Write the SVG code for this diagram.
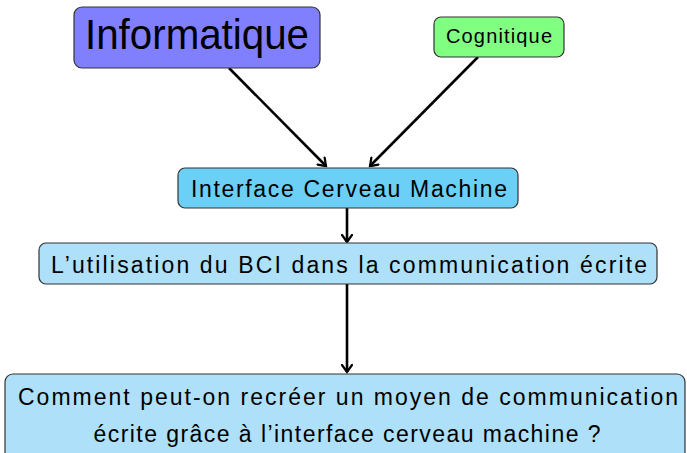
<svg xmlns="http://www.w3.org/2000/svg" width="687" height="453" viewBox="0 0 687 453">
  <style>
    .box { stroke: #333333; stroke-width: 1.2; }
    .lbl { font-family: "Liberation Sans", "DejaVu Sans", sans-serif; fill: #000000; text-anchor: middle; }
    .edge { stroke: #000000; stroke-width: 2.6; fill: none; marker-end: url(#tip); }
  </style>
  <defs>
    <!-- curved open arrow tip -->
    <marker id="tip" viewBox="-8 -6 10 12" markerWidth="10" markerHeight="12" refX="0" refY="0" orient="auto" markerUnits="userSpaceOnUse">
      <path d="M -7,-5 Q -1.5,-1 0,0 Q -1.5,1 -7,5" fill="none" stroke="#000000" stroke-width="2.2" stroke-linecap="round"/>
    </marker>
  </defs>

  <rect width="687" height="453" fill="#ffffff"/>

  <g id="connectors">
    <line class="edge" x1="229" y1="68" x2="326" y2="166"/>
    <line class="edge" x1="478" y1="57" x2="370" y2="166"/>
    <line class="edge" x1="347" y1="208" x2="347" y2="242"/>
    <line class="edge" x1="347" y1="284" x2="347" y2="372"/>
  </g>

  <g id="informatique">
    <rect class="box" x="74" y="7" width="246" height="61" rx="8" fill="#8080ff"/>
    <text class="lbl" x="197" y="49" font-size="43" textLength="224" lengthAdjust="spacingAndGlyphs">Informatique</text>
  </g>

  <g id="cognitique">
    <rect class="box" x="434" y="17" width="130" height="40" rx="7" fill="#80ff80"/>
    <text class="lbl" x="499" y="43" font-size="20" textLength="106" lengthAdjust="spacing">Cognitique</text>
  </g>

  <g id="icm">
    <rect class="box" x="178" y="168" width="340" height="40" rx="7" fill="#6ccff5"/>
    <text class="lbl" x="349" y="197" font-size="23" textLength="316" lengthAdjust="spacing">Interface Cerveau Machine</text>
  </g>

  <g id="bci">
    <rect class="box" x="39" y="243" width="618" height="41" rx="7" fill="#aee0f9"/>
    <text class="lbl" x="349" y="273" font-size="23" textLength="596" lengthAdjust="spacing">L’utilisation du BCI dans la communication écrite</text>
  </g>

  <g id="question">
    <rect class="box" x="5" y="374" width="680" height="90" rx="8" fill="#aee0f9"/>
    <text class="lbl" x="348" y="405" font-size="23" textLength="660" lengthAdjust="spacing">Comment peut-on recréer un moyen de communication</text>
    <text class="lbl" x="347" y="442" font-size="23" textLength="507" lengthAdjust="spacing">écrite grâce à l’interface cerveau machine ?</text>
  </g>
</svg>
